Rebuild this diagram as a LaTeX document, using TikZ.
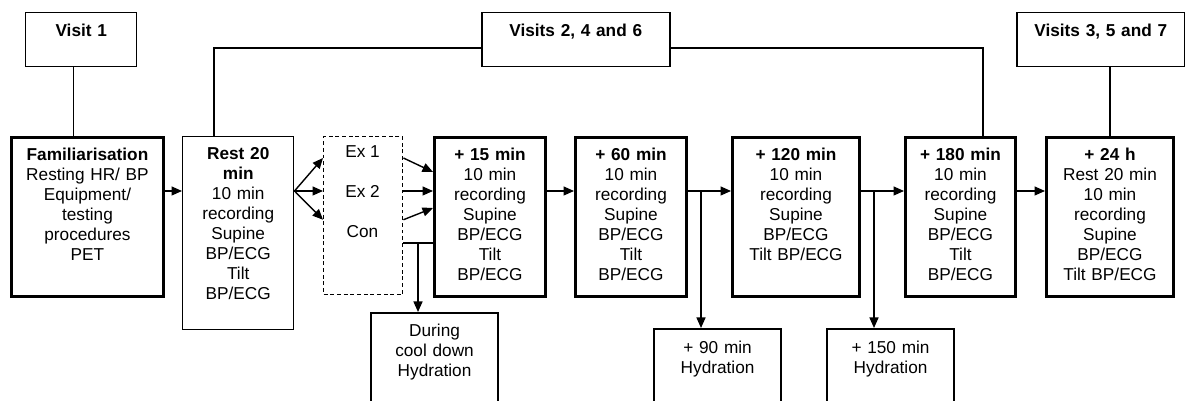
\documentclass[tikz,border=0pt]{standalone}
\usepackage{fontspec}
\setmainfont{Liberation Sans}
\usepackage{tikz}
\usetikzlibrary{arrows.meta,positioning,calc}
\newcommand{\boxfont}{\fontsize{9.8pt}{11.4pt}\selectfont}
\tikzset{
  lbox/.style={draw, line width=0.85pt, anchor=north west, align=center, font=\boxfont,
               inner xsep=0pt, inner ysep=0pt, text width=22.2mm, text height=4.6mm},
  tbox/.style={lbox, line width=1.7pt, text depth=27.2mm},
  visitbox/.style={lbox, font=\boxfont\bfseries, text height=4.8mm, text depth=6mm},
  hydbox/.style={lbox, line width=1.2pt, text width=25.4mm},
  exgroup/.style={draw, dash pattern=on 2.2pt off 1.6pt, line width=0.8pt, anchor=north west,
               minimum width=15.8mm, minimum height=31.6mm, inner sep=0pt},
  extext/.style={font=\boxfont, anchor=base},
  flow/.style={-{Triangle[length=2.1mm, width=1.8mm]}, line width=0.8pt},
  link/.style={line width=0.8pt},
}
\begin{document}
\begin{tikzpicture}[x=0.2mm, y=-0.2mm]
  \useasboundingbox (0,0) rectangle (1185,401);
  \clip (0,0) rectangle (1185,401);
  % visit headers
  \node[visitbox] (visit1) at (25,12) {Visit 1};
  \node[visitbox, text width=37.6mm] (visits246) at (481,12) {Visits 2, 4 and 6};
  \node[visitbox, text width=33.6mm] (visits357) at (1016,12) {Visits 3, 5 and 7};
  % stages
  \node[tbox, text width=30.4mm] (famil) at (10,136)
    {\textbf{Familiarisation}\\ Resting HR/ BP\\ Equipment/\\ testing\\ procedures\\ PET};
  \node[lbox, text depth=34mm] (rest) at (182,136)
    {\textbf{Rest 20}\\ \textbf{min}\\ 10 min\\ recording\\ Supine\\ BP/ECG\\ Tilt\\ BP/ECG};
  \node[exgroup] (exgrp) at (323,136) {};
  \node[extext] (ex1) at (362.5,158) {Ex 1};
  \node[extext] (ex2) at (362.5,198) {Ex 2};
  \node[extext] (con) at (362.5,238) {Con};
  \node[tbox] (p15) at (433,136)
    {\textbf{+ 15 min}\\ 10 min\\ recording\\ Supine\\ BP/ECG\\ Tilt\\ BP/ECG};
  \node[tbox] (p60) at (574,136)
    {\textbf{+ 60 min}\\ 10 min\\ recording\\ Supine\\ BP/ECG\\ Tilt\\ BP/ECG};
  \node[tbox, text width=25.4mm] (p120) at (731,136)
    {\textbf{+ 120 min}\\ 10 min\\ recording\\ Supine\\ BP/ECG\\ Tilt BP/ECG};
  \node[tbox, text width=22mm] (p180) at (904,136)
    {\textbf{+ 180 min}\\ 10 min\\ recording\\ Supine\\ BP/ECG\\ Tilt\\ BP/ECG};
  \node[tbox, text width=25.4mm] (p24) at (1045,136)
    {\textbf{+ 24 h}\\ Rest 20 min\\ 10 min\\ recording\\ Supine\\ BP/ECG\\ Tilt BP/ECG};
  % hydration
  \node[hydbox, text depth=15.4mm] (cool) at (370,312) {During\\ cool down\\ Hydration};
  \node[hydbox, text height=4.8mm, text depth=12mm] (p90) at (653,328) {+ 90 min\\ Hydration};
  \node[hydbox, text height=4.8mm, text depth=12mm] (p150) at (826,328) {+ 150 min\\ Hydration};

  \coordinate (row) at (0,191);
  \coordinate (coolsplit) at (418,243);
  \coordinate (split90) at (701,191);
  \coordinate (split150) at (874,191);
  \coordinate (topL) at (214,48);
  \coordinate (topR) at (983,48);

  % visit links
  \draw[link] ([xshift=-1.5mm]visit1.south) -- ([xshift=-1.5mm]visit1.south |- famil.north);
  \draw[link] (rest.north -| topL) |- (visits246.west |- topL);
  \draw[link] (visits246.east |- topR) -| (p180.north -| topR);
  \draw[link] (visits357.south -| p24.north) -- (p24.north);

  % flow
  \draw[flow] (famil.east |- row) -- (rest.west |- row);
  \draw[flow] (rest.east |- row) -- (exgrp.west |- ex1.base);
  \draw[flow] (rest.east |- row) -- (exgrp.west |- row);
  \draw[flow] (rest.east |- row) -- (exgrp.west |- con.north);
  \draw[flow] (exgrp.east |- ex1.base) -- ($(p15.west |- row)+(0,-19)$);
  \draw[flow] (exgrp.east |- row) -- (p15.west |- row);
  \draw[flow] (exgrp.east |- con.north) -- ($(p15.west |- row)+(0,17)$);
  \draw[link] (exgrp.east |- coolsplit) -- (p15.west |- coolsplit);
  \draw[flow] (coolsplit) -- (coolsplit |- cool.north);
  \draw[flow] (p15.east |- row) -- (p60.west |- row);
  \draw[flow] (p60.east |- row) -- (p120.west |- row);
  \draw[flow] (split90) -- (split90 |- p90.north);
  \draw[flow] (p120.east |- row) -- (p180.west |- row);
  \draw[flow] (split150) -- (split150 |- p150.north);
  \draw[flow] (p180.east |- row) -- (p24.west |- row);
\end{tikzpicture}
\end{document}
